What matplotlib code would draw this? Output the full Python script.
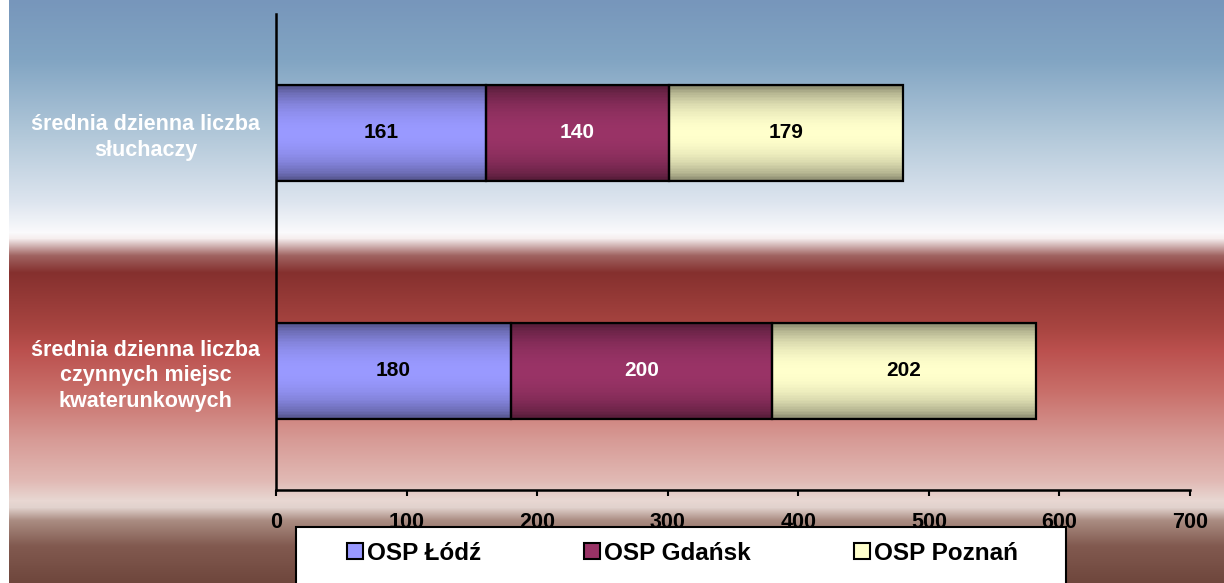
import numpy as np
import matplotlib
matplotlib.use("Agg")
import matplotlib.pyplot as plt
from matplotlib.patches import Patch, Rectangle
from matplotlib.collections import PatchCollection
from matplotlib.colors import to_rgb

# ── data ─────────────────────────────────────
categories = ["średnia dzienna liczba\nsłuchaczy",
              "średnia dzienna liczba\nczynnych miejsc\nkwaterunkowych"]
series = ["OSP Łódź", "OSP Gdańsk", "OSP Poznań"]
lodz = [161, 180]
gdansk = [140, 200]
poznan = [179, 202]
x_ticks = [0, 100, 200, 300, 400, 500, 600, 700]

COLORS = ["#9999ff", "#993366", "#ffffcc"]
LABEL_COLORS = ["black", "white", "black"]
FONT = "Liberation Sans"

W, H = 1224, 583
fig = plt.figure(figsize=(W / 100, H / 100), dpi=100)
fig.patch.set_facecolor("white")

# ── background gradient ─────────────────────
stops = [(0, "#7796bb"), (60, "#82a5c3"), (130, "#afc6d8"), (200, "#dce4ee"),
         (232, "#fafafc"), (238, "#f6eeee"), (255, "#a06462"), (272, "#85302e"),
         (330, "#aa4642"), (350, "#bb504e"), (390, "#c86e69"), (440, "#d79b96"),
         (480, "#e1b9b4"), (500, "#e8d7d2"), (507, "#e1d2cd"), (520, "#aa8c82"),
         (545, "#825a50"), (583, "#6e463c")]
ys = np.arange(H)
sp = np.array([s[0] for s in stops])
cols = np.array([to_rgb(s[1]) for s in stops])
grad = np.stack([np.interp(ys, sp, cols[:, k]) for k in range(3)], axis=1)
bg = fig.add_axes([9 / W, 0, 1 - 9 / W, 1], zorder=0)
bg.imshow(grad[:, None, :], aspect="auto", extent=(0, 1, 0, 1), origin="upper")
bg.axis("off")

# ── main axes ───────────────────────────────
ax = fig.add_axes([276 / W, 1 - 490 / H, (1190 - 276) / W, (490 - 14) / H], zorder=1)
ax.patch.set_alpha(0)

ypos = np.arange(len(categories))[::-1]
left = np.zeros(len(categories))
N = 60
t = (np.arange(N) + 0.5) / N
shade = 0.48 + 0.52 * np.sin(np.pi * t) ** 0.6

for vals, col, lc in zip([lodz, gdansk, poznan], COLORS, LABEL_COLORS):
    bars = ax.barh(ypos, vals, left=left, height=0.4, color="none",
                   edgecolor="black", linewidth=1.6, zorder=3)
    base = np.array(to_rgb(col))
    for b in bars:
        x0, y0, w, h = b.get_x(), b.get_y(), b.get_width(), b.get_height()
        strips = [Rectangle((x0, y0 + i * h / N), w, h / N * 1.05) for i in range(N)]
        pc = PatchCollection(strips, facecolors=[tuple(base * s) for s in shade],
                             edgecolors="none", linewidths=0, antialiased=False,
                             zorder=2)
        ax.add_collection(pc)
    ax.bar_label(bars, label_type="center", color=lc, fontsize=15,
                 fontweight="bold", family=FONT)
    left = left + np.array(vals)

ax.set_xlim(0, 700)
ax.set_ylim(-0.5, 1.5)
ax.set_xticks(x_ticks)
ax.set_xticklabels([str(v) for v in x_ticks], fontsize=15.5, fontweight="bold",
                   family=FONT)
ax.tick_params(axis="x", direction="out", length=4.5, width=1.5, pad=11)
ax.set_yticks(ypos)
ax.set_yticklabels(categories, fontsize=15.5, fontweight="bold", family=FONT,
                   color="white", ha="center", linespacing=1.3)
ax.tick_params(axis="y", length=0, pad=94)
for s in ["top", "right"]:
    ax.spines[s].set_visible(False)
for s in ["left", "bottom"]:
    ax.spines[s].set_linewidth(1.8)

# ── legend ──────────────────────────────────
fig.patches.append(Rectangle((296 / W, -0.05), (1066 - 296) / W, (H - 527) / H + 0.05,
                             transform=fig.transFigure, facecolor="white",
                             edgecolor="black", linewidth=1.5, zorder=5))
handles = [Patch(facecolor=c, edgecolor="black", linewidth=1.5) for c in COLORS]
leg = fig.legend(handles, series, loc="center left", ncol=3, frameon=False,
                 bbox_to_anchor=(347 / W, 1 - 553 / H), borderpad=0, borderaxespad=0,
                 handlelength=0.66, handleheight=0.66, handletextpad=0.17,
                 columnspacing=4.23,
                 prop={"family": FONT, "weight": "bold", "size": 17.5})
leg.set_zorder(6)

fig.savefig("out.png", dpi=100)
